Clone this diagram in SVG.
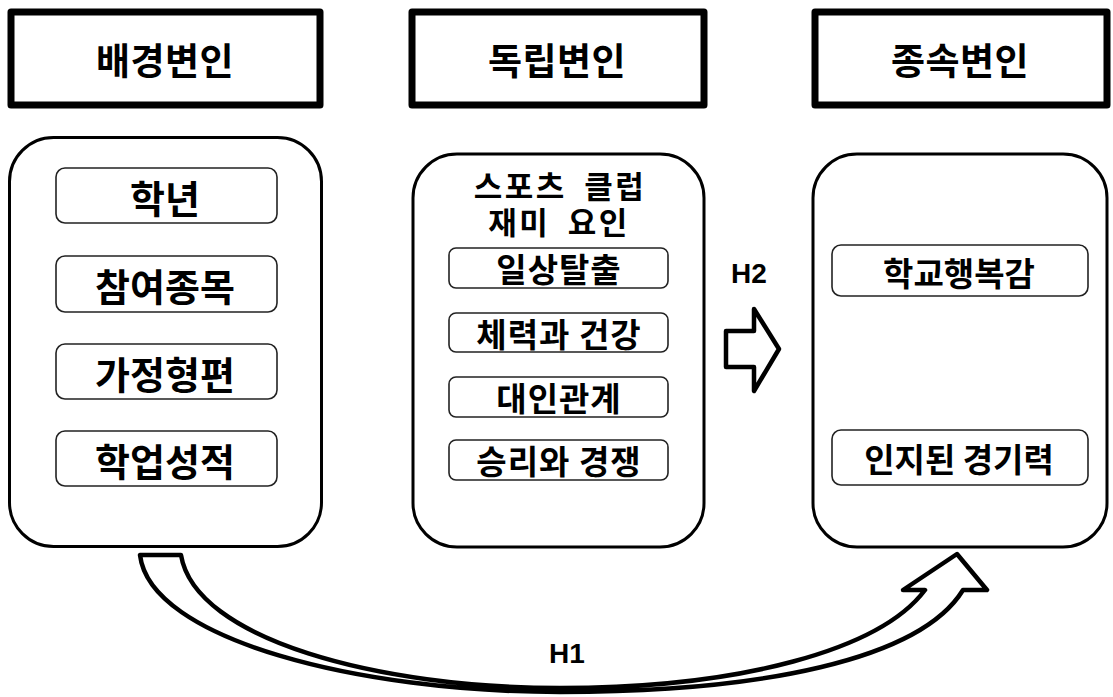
<svg xmlns="http://www.w3.org/2000/svg" width="1113" height="697" viewBox="0 0 1113 697">
<style>
.hdr{fill:#fff;stroke:#000;stroke-width:7;stroke-linejoin:round}
.cont{fill:#fff;stroke:#000;stroke-width:3}
.item{fill:#fff;stroke:#222;stroke-width:1.6}
.kt{font-family:"Noto Sans CJK KR","Malgun Gothic",sans-serif;font-weight:bold;fill:#000;text-anchor:middle;dominant-baseline:central}
.lt{font-family:"Liberation Sans",Arial,sans-serif;font-weight:bold;fill:#000;text-anchor:middle;font-size:28px}
.arr{fill:#fff;stroke:#000;stroke-width:4.5;stroke-linejoin:round}
</style>
<rect width="1113" height="697" fill="#fff"/>
<g id="hdr-background">
<rect class="hdr" x="11" y="12" width="309" height="93"/>
<text class="kt" x="165" y="59" font-size="37" letter-spacing="0.5">배경변인</text>
</g>
<g id="hdr-independent">
<rect class="hdr" x="412" y="12" width="292" height="93"/>
<text class="kt" x="557" y="59" font-size="37" letter-spacing="0.5">독립변인</text>
</g>
<g id="hdr-dependent">
<rect class="hdr" x="815" y="12" width="292" height="93"/>
<text class="kt" x="960" y="59" font-size="37" letter-spacing="0.5">종속변인</text>
</g>
<g id="background-vars">
<rect class="cont" x="9.5" y="137.5" width="312" height="409" rx="44"/>
<rect class="item" x="56" y="168" width="221" height="55" rx="9"/>
<text class="kt" x="165" y="196" font-size="38">학년</text>
<rect class="item" x="56" y="256" width="221" height="56" rx="9"/>
<text class="kt" x="165" y="284" font-size="38">참여종목</text>
<rect class="item" x="56" y="344" width="221" height="55" rx="9"/>
<text class="kt" x="165" y="372" font-size="38">가정형편</text>
<rect class="item" x="56" y="431" width="221" height="55" rx="9"/>
<text class="kt" x="165" y="459" font-size="38">학업성적</text>
</g>
<g id="independent-vars">
<rect class="cont" x="413" y="154" width="291" height="393" rx="44"/>
<text class="kt" font-size="31" letter-spacing="2.5" word-spacing="8"><tspan x="560" y="184">스포츠 클럽</tspan><tspan x="559" y="220">재미 요인</tspan></text>
<rect class="item" x="449" y="248" width="219" height="40" rx="7"/>
<text class="kt" x="559" y="268" font-size="33" letter-spacing="1">일상탈출</text>
<rect class="item" x="449" y="313" width="219" height="39" rx="7"/>
<text class="kt" x="559" y="333" font-size="33" letter-spacing="1">체력과 건강</text>
<rect class="item" x="449" y="377" width="219" height="40" rx="7"/>
<text class="kt" x="559" y="397" font-size="33" letter-spacing="1">대인관계</text>
<rect class="item" x="449" y="440" width="219" height="40" rx="7"/>
<text class="kt" x="559" y="460" font-size="33" letter-spacing="1">승리와 경쟁</text>
</g>
<g id="dependent-vars">
<rect class="cont" x="813" y="154" width="294" height="393" rx="44"/>
<rect class="item" x="832" y="245" width="256" height="51" rx="9"/>
<text class="kt" x="959" y="272" font-size="33">학교행복감</text>
<rect class="item" x="832" y="430" width="256" height="55" rx="9"/>
<text class="kt" x="959" y="458" font-size="33">인지된 경기력</text>
</g>
<g id="connectors">
<path class="arr" d="M726,331 L754,331 L754,309 L779,349 L754,391 L754,367 L726,367 Z"/>
<text class="lt" x="749" y="283">H2</text>
<path class="arr" d="M181,555 C195,640 380,688 560,688 C740,688 880,650 925,590 L903,590 L957,554 L987,590 L963,590 C920,660 760,692 560,692 C360,692 150,640 140,555 Z"/>
<text class="lt" x="567" y="663">H1</text>
</g>
</svg>
